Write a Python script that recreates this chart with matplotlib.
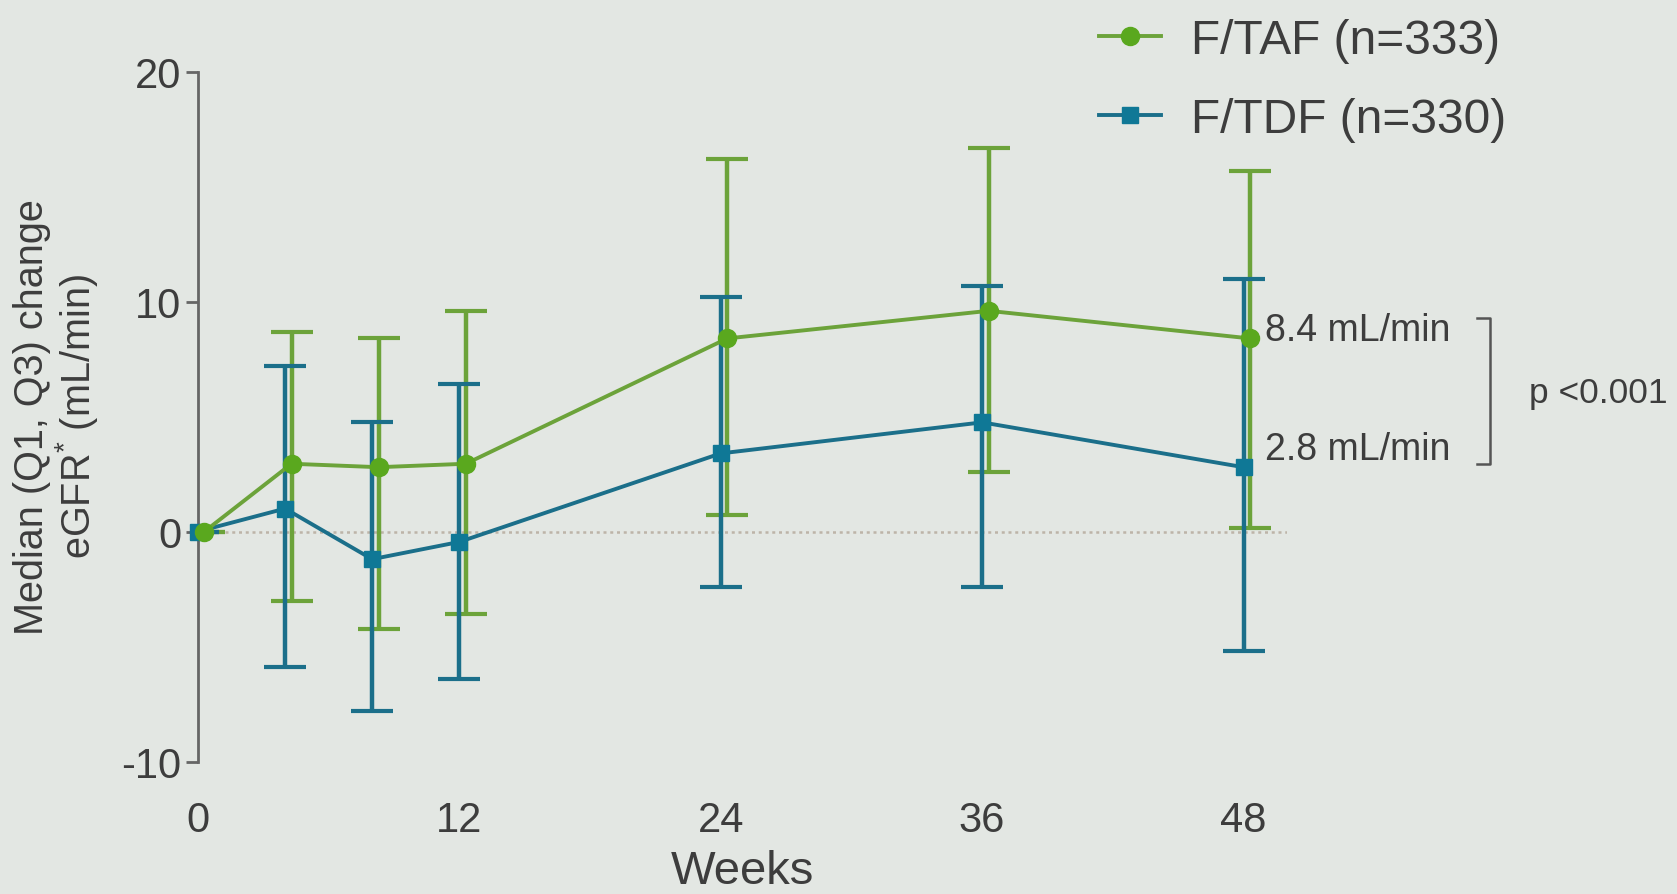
import matplotlib
matplotlib.use("Agg")
import matplotlib.pyplot as plt
import numpy as np

plt.rcParams["font.family"] = ["Liberation Sans", "DejaVu Sans"]
plt.rcParams["mathtext.fontset"] = "custom"
plt.rcParams["mathtext.rm"] = "Liberation Sans"
plt.rcParams["axes.unicode_minus"] = False

# Median change in eGFR (mL/min) with Q1/Q3 by study week
weeks = [0, 4, 8, 12, 24, 36, 48]

taf_label = "F/TAF (n=333)"
taf_median = [0.0, 2.95, 2.8, 2.95, 8.4, 9.6, 8.4]
taf_q1 = [0.0, -3.0, -4.25, -3.6, 0.7, 2.6, 0.15]
taf_q3 = [0.0, 8.7, 8.4, 9.6, 16.2, 16.7, 15.7]

tdf_label = "F/TDF (n=330)"
tdf_median = [0.0, 1.0, -1.2, -0.45, 3.4, 4.75, 2.8]
tdf_q1 = [0.0, -5.9, -7.8, -6.4, -2.4, -2.4, -5.2]
tdf_q3 = [0.0, 7.2, 4.75, 6.4, 10.2, 10.7, 11.0]

x_ticks = [0, 12, 24, 36, 48]
y_ticks = [-10, 0, 10, 20]
p_text = "p <0.001"

BG = "#e3e7e3"
TXT = "#3d3d3d"
GREEN_LINE = "#6ca33a"
GREEN_MK = "#5aa81e"
BLUE_LINE = "#1b6f8a"
BLUE_MK = "#0f7896"


def err(med, q1, q3):
    med, q1, q3 = map(np.asarray, (med, q1, q3))
    return np.vstack([med - q1, q3 - med])


fig = plt.figure(figsize=(16.77, 8.95), dpi=100, facecolor=BG)
ax = fig.add_axes([0.118, 0.148, 0.6495, 0.7708])
ax.set_facecolor(BG)

x = np.asarray(weeks, dtype=float)
x_taf = x + 0.3  # small dodge so the two sets of bars don't sit on top of each other
x_tdf = x

# zero reference
ax.axhline(0, color="#bdb4a8", lw=1.8, ls=(0, (1.2, 1.5)), zorder=1)

ax.errorbar(x_taf, taf_median, yerr=err(taf_median, taf_q1, taf_q3), fmt="none",
            ecolor=GREEN_LINE, elinewidth=3.2, capsize=15, capthick=3.0, zorder=2)
ax.errorbar(x_tdf, tdf_median, yerr=err(tdf_median, tdf_q1, tdf_q3), fmt="none",
            ecolor=BLUE_LINE, elinewidth=3.2, capsize=15, capthick=3.0, zorder=3)
ax.plot(x_tdf, tdf_median, color=BLUE_LINE, lw=2.8, marker="s", ms=12,
        mfc=BLUE_MK, mec=BLUE_MK, zorder=4, clip_on=False, label=tdf_label)
ax.plot(x_taf, taf_median, color=GREEN_LINE, lw=2.8, marker="o", ms=13,
        mfc=GREEN_MK, mec=GREEN_MK, zorder=5, clip_on=False, label=taf_label)

ax.set_xlim(0, 50)
ax.set_ylim(-10, 20)
ax.set_xticks(x_ticks)
ax.set_yticks(y_ticks)
for s in ("top", "right", "bottom"):
    ax.spines[s].set_visible(False)
ax.spines["left"].set_color("#666666")
ax.spines["left"].set_linewidth(2.0)
ax.tick_params(axis="y", length=9, width=2.0, color="#666666", pad=3,
               labelsize=30, labelcolor=TXT)
ax.tick_params(axis="x", length=0, pad=28, labelsize=30, labelcolor=TXT)
ax.set_xlabel("Weeks", fontsize=34, color=TXT, labelpad=6)

fig.text(0.0335, 0.534, "Median (Q1, Q3) change\neGFR$^{*}$ (mL/min)",
         rotation=90, ha="center", va="center", fontsize=28.5, color=TXT,
         linespacing=1.05, multialignment="center")

# week-48 values and the p-value bracket
ax.text(49.0, 8.75, f"{taf_median[-1]:.1f} mL/min", fontsize=27, color=TXT,
        va="center", ha="left", clip_on=False)
ax.text(49.0, 3.6, f"{tdf_median[-1]:.1f} mL/min", fontsize=27, color=TXT,
        va="center", ha="left", clip_on=False)
ax.plot([58.7, 59.3, 59.3, 58.7], [9.3, 9.3, 2.95, 2.95], color="#555555",
        lw=1.8, clip_on=False)
ax.text(61.1, 6.05, p_text, fontsize=25.5, color=TXT, va="center", ha="left",
        clip_on=False)

handles, labels = ax.get_legend_handles_labels()
fig.legend(handles[::-1], labels[::-1], loc="upper left",
           bbox_to_anchor=(0.641, 1.006), frameon=False, fontsize=34.5,
           handlelength=1.3, handletextpad=0.62, labelspacing=0.72,
           borderpad=0.0, labelcolor=TXT)

fig.savefig("out.png", dpi=100, facecolor=BG)
